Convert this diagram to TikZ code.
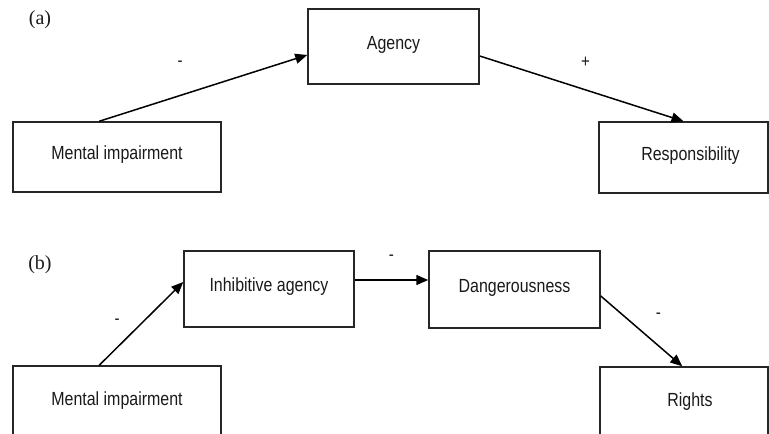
\documentclass[tikz,border=0pt]{standalone}
\usepackage{fontspec}
\setmainfont{Liberation Sans}
\newfontfamily\serifpart{Liberation Serif}
\usetikzlibrary{arrows.meta}
\newcommand\nt[1]{\scalebox{0.84}[1]{#1}}
\begin{document}
\begin{tikzpicture}[x=1pt,y=-1pt,
  box/.style={draw=black!85, line width=1.5pt, rectangle, inner sep=0pt, text=black!90,
    font=\fontsize{19}{22}\selectfont, text height=14pt, text depth=8.4pt},
  conn/.style={draw=black, line width=1.5pt, -{Triangle[length=12pt,width=10pt]}},
  sign/.style={font=\fontsize{18}{20}\selectfont, text=black!90, inner sep=0pt},
  panel/.style={font=\serifpart\fontsize{20}{22}\selectfont, text=black!90, inner sep=0pt}]
\useasboundingbox (0,0) rectangle (769,434);
\clip (0,0) rectangle (769,434);
% panel (a)
\node[panel] (pa) at (40,20) {(a)};
\node[box, minimum width=208pt, minimum height=70pt] (ma) at (117,157) {\nt{Mental impairment}};
\node[box, minimum width=171pt, minimum height=75pt] (ag) at (393.5,46.5) {\nt{Agency}};
\node[box, minimum width=169pt, minimum height=71pt] (re) at (683.5,157.5) {\hspace*{14pt}\nt{Responsibility}};
\draw[conn] ([xshift=87pt]ma.north west) -- node[sign, xshift=-23pt, yshift=24pt] (s1) {\nt{-}} ([yshift=-8.5pt]ag.west);
\draw[conn] ([yshift=-9.5pt]ag.east) -- node[sign, xshift=4pt, yshift=26pt] (s2) {\nt{+}} (re.north);
% panel (b)
\node[panel] (pb) at (40,265) {(b)};
\node[box, minimum width=208pt, minimum height=74pt] (mb) at (117,403) {\nt{Mental impairment}};
\node[box, minimum width=170pt, minimum height=76pt] (ia) at (269,289) {\nt{Inhibitive agency}};
\node[box, minimum width=171pt, minimum height=77pt] (dg) at (514.5,289.5) {\nt{Dangerousness}};
\node[box, minimum width=168pt, minimum height=74pt] (ri) at (684,404) {\hspace*{12pt}\nt{Rights}};
\draw[conn] ([xshift=87pt]mb.north west) -- node[sign, xshift=-24pt, yshift=2pt] (s3) {\nt{-}} ([yshift=7pt]ia.west);
\draw[conn] ([yshift=9pt]ia.east) -- node[sign, yshift=22pt] (s4) {\nt{-}} ([yshift=9.5pt]dg.west);
\draw[conn] ([yshift=-6.5pt]dg.east) -- node[sign, xshift=17pt, yshift=15pt] (s5) {\nt{-}} ([xshift=83pt]ri.north west);
\end{tikzpicture}
\end{document}
